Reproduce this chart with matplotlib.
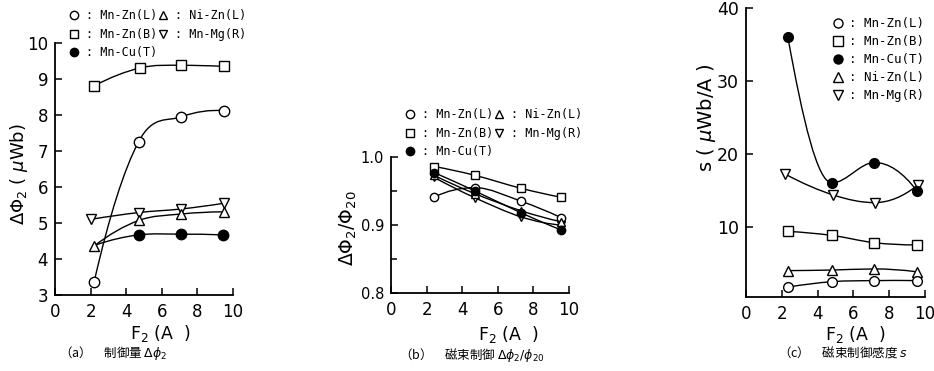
import numpy as np
import matplotlib
matplotlib.use("Agg")
import matplotlib.pyplot as plt
from matplotlib.path import Path
from matplotlib.patches import PathPatch
from matplotlib.lines import Line2D

W, H = 934, 371

# ---- data ----
# (a) control amount dPhi2 [uWb] vs F2 [A]
a_znl_x = [2.2, 4.7, 7.1, 9.5]
a_znl_y = [3.37, 7.26, 7.95, 8.12]
a_znb_x = [2.2, 4.8, 7.1, 9.5]
a_znb_y = [8.81, 9.31, 9.38, 9.35]
a_nizn_x = [2.2, 4.7, 7.1, 9.5]
a_nizn_y = [4.36, 5.07, 5.25, 5.31]
a_mnmg_x = [2.0, 4.7, 7.1, 9.5]
a_mnmg_y = [5.1, 5.29, 5.39, 5.55]
a_mncu_x = [2.35, 4.7, 7.1, 9.45]
a_mncu_y = [4.4, 4.67, 4.69, 4.67]

# (b) dPhi2 / Phi20
b_x = [2.43, 4.72, 7.3, 9.53]
b_znl_y = [0.941, 0.955, 0.935, 0.911]
b_znb_y = [0.986, 0.973, 0.954, 0.941]
b_nizn_y = [0.973, 0.946, 0.921, 0.905]
b_mnmg_y = [0.970, 0.940, 0.912, 0.900]
b_mncu_y = [0.977, 0.950, 0.918, 0.893]

# (c) sensitivity s [uWb/A]
c_x = [2.34, 4.8, 7.17, 9.55]
c_znl_y = [1.7, 2.45, 2.6, 2.6]
c_znb_y = [9.35, 8.8, 7.8, 7.5]
c_mncu_y = [36.0, 16.0, 18.8, 14.9]
c_nizn_y = [3.97, 4.05, 4.2, 3.8]
c_mnmg_x = [2.2, 4.87, 7.19, 9.59]
c_mnmg_y = [17.2, 14.35, 13.3, 15.7]

labels = [': Mn-Zn(L)', ': Mn-Zn(B)', ': Mn-Cu(T)', ': Ni-Zn(L)', ': Mn-Mg(R)']
markers = ['o', 's', 'o', '^', 'v']
faces = ['white', 'white', 'black', 'white', 'white']


def smooth(ax, xs, ys, lw=1.0, endk=2.0):
    # hand-drawn style curve through the points (cubic bezier pieces)
    p = np.column_stack([xs, ys]).astype(float)
    n = len(p)
    m = np.zeros_like(p)
    for i in range(1, n - 1):
        m[i] = (p[i + 1] - p[i - 1]) / 2
        if (p[i, 1] - p[i - 1, 1]) * (p[i + 1, 1] - p[i, 1]) < 0:
            m[i, 1] = 0
    m[0] = endk * (p[1] - p[0]) - (endk - 1) * m[1]
    m[-1] = 2 * (p[-1] - p[-2]) - m[-2]
    verts = [p[0]]
    codes = [Path.MOVETO]
    for i in range(n - 1):
        verts += [p[i] + m[i] / 3, p[i + 1] - m[i + 1] / 3, p[i + 1]]
        codes += [Path.CURVE4] * 3
    ax.add_patch(PathPatch(Path(verts, codes), fill=False, lw=lw,
                           ec='black', zorder=2))


def series(ax, xs, ys, k, ms, every=None, endk=2.0):
    smooth(ax, xs, ys, endk=endk)
    ax.plot(xs, ys, ls='none', marker=markers[k], mfc=faces[k], mec='black',
            mew=1.0, ms=ms, zorder=3, markevery=every)


def add_ax(l, t, r, b):
    ax = fig.add_axes([l / W, 1 - b / H, (r - l) / W, (b - t) / H])
    for s in ['top', 'right']:
        ax.spines[s].set_visible(False)
    for s in ['left', 'bottom']:
        ax.spines[s].set_linewidth(1.3)
    ax.tick_params(direction='in', length=5, width=1.1, labelsize=12)
    ax.tick_params(axis='x', pad=5.5)
    ax.tick_params(axis='y', pad=5)
    ax.tick_params(which='minor', direction='in', length=4, width=1.1)
    ax.set_xlim(0, 10)
    ax.set_xticks([0, 2, 4, 6, 8, 10])
    return ax


def legend(ax, x, y, size, ms, ncol, pad, colsp, lsp):
    hs = [Line2D([], [], ls='none', marker=markers[k], mfc=faces[k],
                 mec='black', mew=1.0, ms=ms) for k in range(5)]
    ax.legend(hs, labels, loc='upper left',
              bbox_to_anchor=(x / W, 1 - y / H), bbox_transform=fig.transFigure,
              ncol=ncol, frameon=False, borderpad=0, borderaxespad=0,
              handlelength=1.0, handletextpad=pad, columnspacing=colsp,
              labelspacing=lsp,
              prop={'family': 'DejaVu Sans Mono', 'size': size})


def labs(ax, xl, yl, xpos, ypos, ysize=12):
    ax.set_xlabel(xl, fontsize=12.5)
    ax.set_ylabel(yl, fontsize=ysize)
    ax.xaxis.set_label_coords(xpos[0] / W, 1 - xpos[1] / H, transform=fig.transFigure)
    ax.yaxis.set_label_coords(ypos[0] / W, 1 - ypos[1] / H, transform=fig.transFigure)


fig = plt.figure(figsize=(W / 100, H / 100), dpi=100)

# ---- (a) ----
ax1 = add_ax(55, 43, 233, 295)
ax1.set_ylim(3, 10)
ax1.set_yticks(range(3, 11))
series(ax1, a_znb_x, a_znb_y, 1, 7.5)
series(ax1, a_znl_x, a_znl_y, 0, 7.5)
series(ax1, a_mncu_x, a_mncu_y, 2, 7.5, every=[1, 2, 3])
series(ax1, a_mnmg_x, a_mnmg_y, 4, 7.5)
series(ax1, a_nizn_x, a_nizn_y, 3, 7.5)
legend(ax1, 68, 9, 8.5, 6, 2, 0.5, 0.02, 0.48)
labs(ax1, r'F$_2$ (A  )', r'$\Delta\Phi_2$ ( $\mu$Wb)', (160, 323), (30, 174),
     ysize=13)

# ---- (b) ----
ax2 = add_ax(391, 157, 569, 293)
ax2.set_ylim(0.8, 1.0)
ax2.set_yticks([0.8, 0.9, 1.0])
ax2.set_yticklabels(['0.8', '0.9', '1.0'])
ax2.set_yticks([0.85, 0.95], minor=True)
ax2.tick_params(axis='y', labelsize=10.5)
series(ax2, b_x, b_znb_y, 1, 5.5)
series(ax2, b_x, b_znl_y, 0, 6)
series(ax2, b_x, b_mnmg_y, 4, 5.5)
series(ax2, b_x, b_nizn_y, 3, 5.5)
series(ax2, b_x, b_mncu_y, 2, 6)
legend(ax2, 404, 108, 8.5, 6, 2, 0.5, 0.02, 0.48)
labs(ax2, r'F$_2$ (A  )', r'$\Delta\Phi_2/\Phi_{20}$', (508, 324), (359, 228),
     ysize=13.5)

# ---- (c) ----
ax3 = add_ax(746, 8, 925, 297)
ax3.set_ylim(0.35, 40)
ax3.set_yticks([10, 20, 30, 40])
ax3.tick_params(axis='y', labelsize=12.5)
series(ax3, c_x, c_znb_y, 1, 7)
series(ax3, c_x, c_nizn_y, 3, 7)
series(ax3, c_x, c_znl_y, 0, 7)
series(ax3, c_mnmg_x, c_mnmg_y, 4, 7)
series(ax3, c_x, c_mncu_y, 2, 7, endk=1.7)
legend(ax3, 832, 17, 9, 6.5, 1, 0.35, 0.5, 0.4)
labs(ax3, r'F$_2$ (A  )', r's ( $\mu$Wb/A )', (855, 324), (718, 118), ysize=14)

# ---- captions ----
cap = dict(family=['Noto Sans CJK JP', 'DejaVu Sans'], fontsize=9,
           ha='center', va='center')
fig.text(113 / W, 1 - 353 / H, '（a）　制御量 $\\mathit{\\Delta}\\phi_2$', **cap)
fig.text(472 / W, 1 - 355 / H, '（b）　磁束制御 $\\mathit{\\Delta}\\phi_2/\\phi_{20}$', **cap)
fig.text(843 / W, 1 - 352 / H, '（c）　磁束制御感度 $s$', **cap)

fig.savefig('out.png', dpi=100)
